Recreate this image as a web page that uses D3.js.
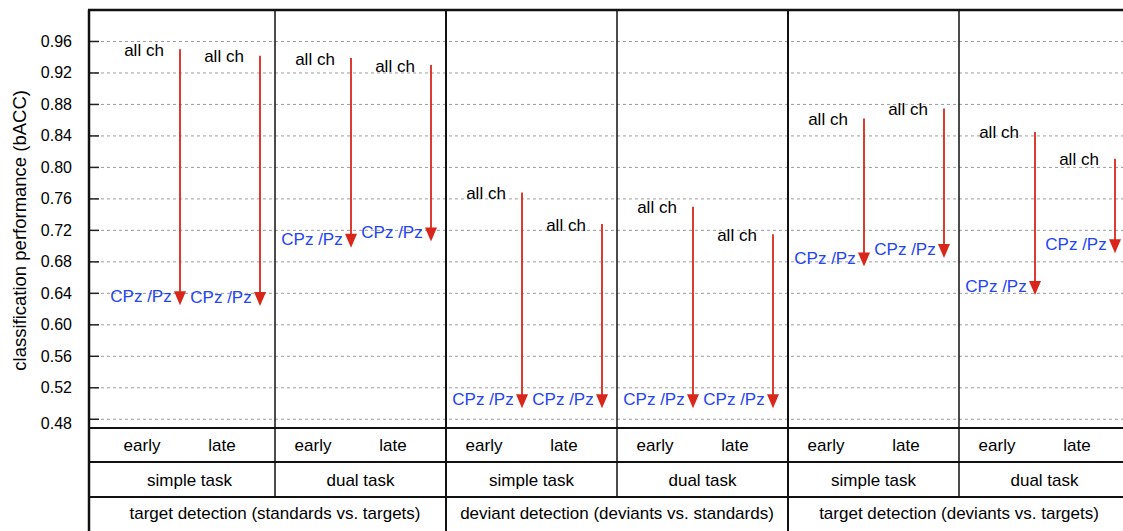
<!DOCTYPE html>
<html>
<head>
  <meta charset="UTF-8">
  <style>
    body { margin: 0; background: #fff; }
    svg { display: block; font-family: Helvetica, "Liberation Sans", Arial, sans-serif; }
  </style>
  <title>bACC arrows</title>
</head>
<body>
<svg></svg>
<script src="https://d3js.org/d3.v7.min.js"></script>
<script>

let width = 1123, height = 531;

// data
const groups = ["target detection (standards vs. targets)",
                "deviant detection (deviants vs. standards)",
                "target detection (deviants vs. targets)"];
const tasks = ["simple task", "dual task", "simple task", "dual task", "simple task", "dual task"];
const phases = ["early", "late"];
const allCh = [0.950, 0.942, 0.939, 0.930, 0.768, 0.728, 0.750, 0.715, 0.862, 0.875, 0.845, 0.811];
const cpzPz = [0.625, 0.624, 0.698, 0.706, 0.494, 0.494, 0.494, 0.494, 0.674, 0.685, 0.638, 0.691];
const yTicks = [0.48, 0.52, 0.56, 0.60, 0.64, 0.68, 0.72, 0.76, 0.80, 0.84, 0.88, 0.92, 0.96];

let svg = d3.select("svg")
    .attr("width", width)
    .attr("height", height);

let axisX = 89, plotTop = 10, plotBottom = 428;
let rowH = [428, 462, 497, 531];

let y = d3.scaleLinear().domain([0.4689, 1.0]).range([plotBottom, plotTop]);
// panel index -> left edge
let xp = d3.scaleLinear().domain([0, 6]).range([104, 1130]);
let inner = d3.scalePoint().domain(phases).range([38, 118]);
let arrowOff = 38;

let red = "#d8261a", blue = "#2443f4";

// grid
svg.append("g")
    .selectAll("line")
    .data(yTicks)
    .enter()
    .append("line")
    .attr("x1", axisX).attr("x2", width)
    .attr("y1", d => y(d)).attr("y2", d => y(d))
    .attr("stroke", "#9c9c9c")
    .attr("stroke-width", 1)
    .attr("stroke-dasharray", "3,3");

// ticks + labels
svg.append("g")
    .selectAll("line")
    .data(yTicks)
    .enter()
    .append("line")
    .attr("x1", axisX).attr("x2", axisX + 10)
    .attr("y1", d => y(d)).attr("y2", d => y(d))
    .attr("stroke", "#222")
    .attr("stroke-width", 1.5);

svg.append("g")
    .selectAll("text")
    .data(yTicks)
    .enter()
    .append("text")
    .attr("x", 72)
    .attr("y", d => y(d) + (d == 0.48 ? 4 : 0))
    .attr("text-anchor", "end")
    .attr("dominant-baseline", "central")
    .attr("font-size", 16)
    .text(d => d3.format(".2f")(d));

svg.append("text")
    .attr("transform", "translate(19," + ((y(0.48) + y(0.96)) / 2) + ") rotate(-90)")
    .attr("text-anchor", "middle")
    .attr("dominant-baseline", "central")
    .attr("font-size", 18.5)
    .text("classification performance (bACC)");

// frame lines
let frame = svg.append("g").attr("stroke", "#111").attr("fill", "none");
frame.append("line").attr("x1", axisX - 1).attr("x2", width).attr("y1", plotTop).attr("y2", plotTop).attr("stroke-width", 2.5);
frame.append("line").attr("x1", axisX).attr("x2", axisX).attr("y1", plotTop).attr("y2", height).attr("stroke-width", 2.5);
rowH.slice(0, 3).forEach(h => {
    frame.append("line").attr("x1", axisX).attr("x2", width).attr("y1", h).attr("y2", h).attr("stroke-width", 2);
});
d3.range(1, 6).forEach(i => {
    let isGroup = i % 2 == 0;
    frame.append("line")
        .attr("x1", xp(i)).attr("x2", xp(i))
        .attr("y1", plotTop)
        .attr("y2", isGroup ? height : rowH[2])
        .attr("stroke-width", isGroup ? 2 : 1.5);
});

// flatten data to arrows
let arrows = allCh.map((v, i) => ({
    panel: Math.floor(i / 2),
    phase: phases[i % 2],
    from: v,
    to: cpzPz[i]
}));
arrows.forEach(d => { d.cx = xp(d.panel) + inner(d.phase); d.ax = d.cx + arrowOff; });

let ag = svg.append("g");
ag.selectAll("line")
    .data(arrows)
    .enter()
    .append("line")
    .attr("x1", d => d.ax).attr("x2", d => d.ax)
    .attr("y1", d => y(d.from)).attr("y2", d => y(d.to) - 12)
    .attr("stroke", red)
    .attr("stroke-width", 1.8);

ag.selectAll("path")
    .data(arrows)
    .enter()
    .append("path")
    .attr("d", d => {
        let ty = y(d.to);
        return "M" + (d.ax - 6) + "," + (ty - 14) + " L" + (d.ax + 6) + "," + (ty - 14) + " L" + d.ax + "," + ty + "Z";
    })
    .attr("fill", red);

ag.selectAll("text.top")
    .data(arrows)
    .enter()
    .append("text")
    .attr("class", "top")
    .attr("x", d => d.cx + 2)
    .attr("y", d => y(d.from) + 1)
    .attr("text-anchor", "middle")
    .attr("dominant-baseline", "central")
    .attr("font-size", 17)
    .text("all ch");

ag.selectAll("text.bot")
    .data(arrows)
    .enter()
    .append("text")
    .attr("class", "bot")
    .attr("x", d => d.cx - 1)
    .attr("y", d => y(d.to) - 8.5)
    .attr("text-anchor", "middle")
    .attr("dominant-baseline", "central")
    .attr("font-size", 17)
    .attr("fill", blue)
    .text("CPz /Pz");

// table text
let tg = svg.append("g").attr("font-size", 17).attr("text-anchor", "middle").attr("dominant-baseline", "central");
arrows.forEach(d => {
    tg.append("text").attr("x", d.cx).attr("y", (rowH[0] + rowH[1]) / 2).text(d.phase);
});
tasks.forEach((t, i) => {
    tg.append("text").attr("x", (xp(i) + xp(i + 1)) / 2).attr("y", (rowH[1] + rowH[2]) / 2 + 1).text(t);
});
groups.forEach((g, i) => {
    tg.append("text").attr("x", (xp(2 * i) + xp(2 * i + 2)) / 2).attr("y", (rowH[2] + rowH[3]) / 2 - 1).text(g);
});

</script>
</body>
</html>
